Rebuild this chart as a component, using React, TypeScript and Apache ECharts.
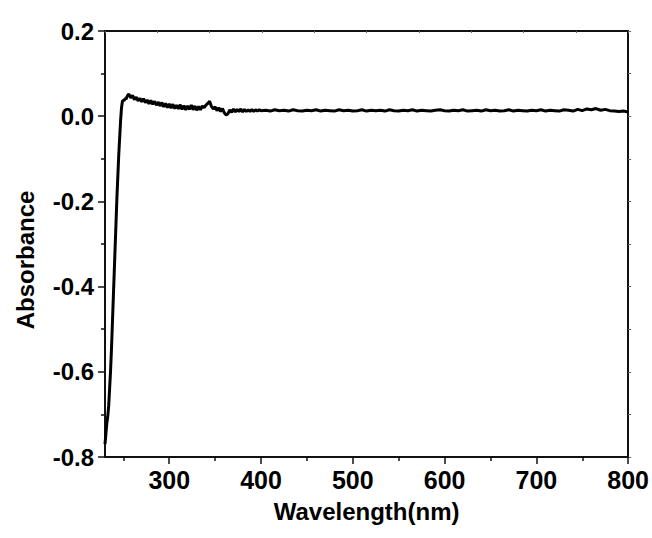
import React, { useEffect, useRef } from "react";
import * as echarts from "echarts";

// Measurement grid (nm): three scan segments
const seg1Start = 230, seg1Step = 1;
const seg2Start = 258, seg2Step = 2;
const seg3Start = 405, seg3Step = 5;

const absSeg1 = [
  -0.77, -0.745, -0.72, -0.705, -0.68, -0.64, -0.6, -0.55, -0.49, -0.43,
  -0.37, -0.31, -0.25, -0.19, -0.14, -0.09, -0.05, -0.01, 0.02, 0.035,
  0.038, 0.036, 0.042, 0.04, 0.046, 0.05, 0.052,
];
const absSeg2 = [
  0.043, 0.049, 0.039, 0.045, 0.036, 0.042, 0.034, 0.041, 0.032, 0.038,
  0.029, 0.037, 0.028, 0.035, 0.026, 0.033, 0.024, 0.032, 0.022, 0.03,
  0.02, 0.029, 0.019, 0.028, 0.018, 0.026, 0.017, 0.027, 0.016, 0.025,
  0.015, 0.024, 0.016, 0.026, 0.015, 0.024, 0.014, 0.023, 0.015, 0.024,
  0.02, 0.026, 0.03, 0.035, 0.023, 0.017, 0.022, 0.013, 0.02, 0.011,
  0.018, 0.008, 0.003, 0.006, 0.015, 0.009, 0.017, 0.01, 0.016, 0.011,
  0.017, 0.01, 0.016, 0.011, 0.015, 0.011, 0.016, 0.011, 0.015, 0.012,
  0.015, 0.013,
];
const absSeg3 = [
  0.014, 0.012, 0.015, 0.013, 0.014, 0.012, 0.015, 0.013, 0.012, 0.014,
  0.013, 0.015, 0.012, 0.014, 0.013, 0.012, 0.015, 0.013, 0.014, 0.012,
  0.013, 0.015, 0.012, 0.014, 0.013, 0.014, 0.012, 0.015, 0.013, 0.012,
  0.014, 0.013, 0.015, 0.012, 0.014, 0.013, 0.012, 0.014, 0.015, 0.013,
  0.012, 0.014, 0.013, 0.015, 0.012, 0.013, 0.014, 0.012, 0.015, 0.013,
  0.014, 0.012, 0.013, 0.015, 0.012, 0.014, 0.013, 0.012, 0.014, 0.013,
  0.015, 0.012, 0.014, 0.013, 0.012, 0.015, 0.014, 0.012, 0.016, 0.013,
  0.017, 0.015, 0.018, 0.014, 0.016, 0.013, 0.012, 0.011, 0.012, 0.01,
];

const xMajorTicks = [300, 400, 500, 600, 700, 800];
const xMinorTicks = [250, 350, 450, 550, 650, 750];

const FONT = "'Liberation Sans', Arial, sans-serif";

function buildData(): [number, number][] {
  const out: [number, number][] = [];
  absSeg1.forEach((v, i) => out.push([seg1Start + i * seg1Step, v]));
  absSeg2.forEach((v, i) => out.push([seg2Start + i * seg2Step, v]));
  absSeg3.forEach((v, i) => out.push([seg3Start + i * seg3Step, v]));
  return out;
}

export default function App() {
  const ref = useRef<HTMLDivElement>(null);
  useEffect(() => {
    if (!ref.current) return;
    const chart = echarts.init(ref.current, null, { renderer: "svg" });
    const axisColor = "#111";
    chart.setOption({
      animation: false,
      backgroundColor: "#fff",
      grid: { left: 105, right: 23, top: 31, bottom: 81, containLabel: false },
      xAxis: [
        {
          type: "value",
          position: "bottom",
          min: 230,
          max: 800,
          name: "Wavelength(nm)",
          nameLocation: "middle",
          nameGap: 42,
          nameTextStyle: { fontFamily: FONT, fontWeight: "bold", fontSize: 24, color: "#000" },
          axisLine: { show: true, onZero: false, lineStyle: { color: axisColor, width: 2 } },
          axisTick: {
            show: true,
            inside: false,
            length: 7,
            customValues: xMajorTicks,
            lineStyle: { color: axisColor, width: 1.5 },
          },
          axisLabel: {
            show: true,
            customValues: xMajorTicks,
            margin: 10,
            fontFamily: FONT,
            fontWeight: "bold",
            fontSize: 25,
            color: "#000",
          },
          splitLine: { show: false },
        },
        {
          type: "value",
          position: "bottom",
          min: 230,
          max: 800,
          axisLine: { show: false, onZero: false },
          axisTick: {
            show: true,
            length: 4,
            customValues: xMinorTicks,
            lineStyle: { color: axisColor, width: 1.5 },
          },
          axisLabel: { show: false },
          splitLine: { show: false },
        },
        {
          type: "value",
          position: "top",
          min: 0,
          max: 10,
          interval: 1,
          axisLine: { show: true, onZero: false, lineStyle: { color: axisColor, width: 2 } },
          axisTick: { show: true, inside: true, length: 2, lineStyle: { color: "#666", width: 1 } },
          axisLabel: { show: false },
          splitLine: { show: false },
        },
      ],
      yAxis: [
        {
          type: "value",
          position: "left",
          min: -0.8,
          max: 0.2,
          interval: 0.2,
          axisLine: { show: true, onZero: false, lineStyle: { color: axisColor, width: 2 } },
          axisTick: { show: true, length: 7, lineStyle: { color: axisColor, width: 1.5 } },
          minorTick: { show: true, splitNumber: 2, length: 4, lineStyle: { color: axisColor, width: 1.5 } },
          axisLabel: {
            margin: 11,
            fontFamily: FONT,
            fontWeight: "bold",
            fontSize: 24,
            color: "#000",
            formatter: (v: number) => v.toFixed(1),
          },
          splitLine: { show: false },
          minorSplitLine: { show: false },
        },
        {
          type: "value",
          position: "right",
          min: -0.8,
          max: 0.2,
          interval: 0.1,
          axisLine: { show: true, onZero: false, lineStyle: { color: axisColor, width: 2 } },
          axisTick: { show: true, inside: false, length: 3, lineStyle: { color: "#666", width: 1 } },
          axisLabel: { show: false },
          splitLine: { show: false },
        },
      ],
      graphic: [
        {
          type: "text",
          x: 25,
          y: 260,
          rotation: Math.PI / 2,
          style: {
            text: "Absorbance",
            fontFamily: FONT,
            fontWeight: "bold",
            fontSize: 24,
            fill: "#000",
            textAlign: "center",
            textVerticalAlign: "middle",
          },
        },
      ],
      series: [
        {
          type: "line",
          xAxisIndex: 0,
          yAxisIndex: 0,
          data: buildData(),
          showSymbol: false,
          symbol: "none",
          lineStyle: { color: "#000", width: 3 },
          clip: true,
        },
      ],
    });
    return () => chart.dispose();
  }, []);
  return (
    <div
      ref={ref}
      style={{ position: "fixed", left: 0, top: 0, width: 652, height: 538, background: "#fff" }}
    />
  );
}
